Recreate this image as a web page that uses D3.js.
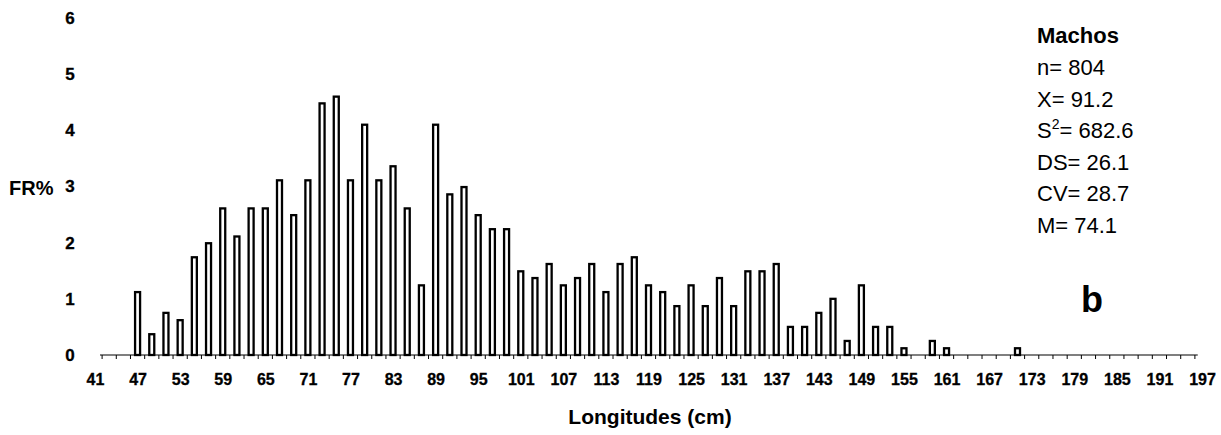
<!DOCTYPE html>
<html><head><meta charset="utf-8">
<script src="https://cdn.jsdelivr.net/npm/d3@7"></script>
<style>
body{margin:0;background:#fff}
svg{display:block}
text{font-family:"Liberation Sans",Arial,sans-serif;fill:#000}
</style>
</head><body>
<svg id="chart" width="1221" height="435"></svg>
<script>
// Length classes (cm, centre of 2-cm class)
const lengths = [41,43,45,47,49,51,53,55,57,59,61,63,65,67,69,71,73,75,77,79,81,83,85,87,89,91,93,95,97,99,
  101,103,105,107,109,111,113,115,117,119,121,123,125,127,129,131,133,135,137,139,141,143,145,147,149,
  151,153,155,157,159,161,163,165,167,169,171,173,175,177,179,181,183,185,187,189,191,193,195,197];
// Relative frequency FR%
const freq = [0,0,0,1.12,0.37,0.75,0.62,1.74,1.99,2.61,2.11,2.61,2.61,3.11,2.49,3.11,4.48,4.60,3.11,4.10,3.11,3.36,2.61,1.24,4.10,2.86,2.99,2.49,2.24,2.24,
  1.49,1.37,1.62,1.24,1.37,1.62,1.12,1.62,1.74,1.24,1.12,0.87,1.24,0.87,1.37,0.87,1.49,1.49,1.62,0.50,0.50,0.75,1.00,0.25,1.24,
  0.50,0.50,0.12,0,0.25,0.12,0,0,0,0,0.12,0,0,0,0,0,0,0,0,0,0,0,0,0];
const xTickLabels = [41,47,53,59,65,71,77,83,89,95,101,107,113,119,125,131,137,143,149,155,161,167,173,179,185,191,197];
const minorTicks = [42,44,46,48,50,52,54,56,58,60,62,64,66,68,70,72,74,76,78,80,82,84,86,88,90,92,94,96,98,100,
  102,104,106,108,110,112,114,116,118,120,122,124,126,128,130,132,134,136,138,140,142,144,146,148,150,
  152,154,156,158,160,162,164,166,168,170,172,174,176,178,180,182,184,186,188,190,192,194,196];
const yTickLabels = [0,1,2,3,4,5,6];
const statsTitle = "Machos";
const statsLines = ["n= 804", "X= 91.2", "S2= 682.6", "DS= 26.1", "CV= 28.7", "M= 74.1"];

const FONT = '"Liberation Sans",Arial,sans-serif';
const svg = d3.select("#chart");
const x = d3.scaleLinear().domain([41,197]).range([95,1202]);
const y = d3.scaleLinear().domain([0,6]).range([355,18]);

const data = lengths.map((l,i)=>({l, v: freq[i]})).filter(d=>d.v>0);

// bars
svg.append("g").selectAll("rect").data(data).join("rect")
  .attr("x", d=>x(d.l)-2.5)
  .attr("width", 5)
  .attr("y", d=>y(d.v))
  .attr("height", d=>y(0)-y(d.v))
  .attr("fill","#fff")
  .attr("stroke","#000")
  .attr("stroke-width",2.3);

// x axis line + minor ticks
const gx = svg.append("g").attr("transform",`translate(0,${y(0)})`);
gx.append("line").attr("x1",x(41.7)).attr("x2",x(196.4)).attr("stroke","#000").attr("stroke-width",1.2);
gx.selectAll("line.t").data(minorTicks).join("line").attr("class","t")
  .attr("x1",d=>x(d)).attr("x2",d=>x(d)).attr("y1",0).attr("y2",4)
  .attr("stroke","#000").attr("stroke-width",1);

// x tick labels
const xAxis = d3.axisBottom(x).tickValues(xTickLabels).tickSize(0).tickPadding(20).tickFormat(d3.format("d"));
const gxl = svg.append("g").attr("transform",`translate(0,${y(0)})`).call(xAxis);
gxl.select(".domain").remove();
gxl.selectAll("text").attr("font-size",16).attr("font-weight","bold").attr("font-family",FONT)
  .attr("stroke","#000").attr("stroke-width",0.3)
  .attr("y",19).attr("dy","0.71em");

// y tick labels
const yAxis = d3.axisLeft(y).tickValues(yTickLabels).tickSize(0).tickPadding(0).tickFormat(d3.format("d"));
const gy = svg.append("g").attr("transform","translate(70,0)").call(yAxis);
gy.select(".domain").remove();
gy.selectAll("text").attr("font-size",17).attr("font-weight","bold").attr("font-family",FONT)
  .attr("stroke","#000").attr("stroke-width",0.3)
  .attr("x",0).attr("text-anchor","middle");

// axis titles
svg.append("text").attr("x",9).attr("y",y(3)+8).attr("font-size",20).attr("font-weight","bold").text("FR%");
svg.append("text").attr("x",650).attr("y",424).attr("text-anchor","middle").attr("font-size",21).attr("font-weight","bold").text("Longitudes (cm)");

// stats block
svg.append("text").attr("x",1037).attr("y",43).attr("font-size",22).attr("font-weight","bold").text(statsTitle);
statsLines.forEach((s,i)=>{
  const t = svg.append("text").attr("x",1037).attr("y",75+i*31.6).attr("font-size",22);
  if (s.startsWith("S2")) {
    t.append("tspan").text("S");
    t.append("tspan").attr("dy",-9).attr("font-size",14).text("2");
    t.append("tspan").attr("dy",9).text(s.slice(2));
  } else t.text(s);
});

// panel letter
svg.append("text").attr("x",1092).attr("y",312).attr("text-anchor","middle").attr("font-size",36).attr("font-weight","bold").text("b");
</script>
</body></html>
